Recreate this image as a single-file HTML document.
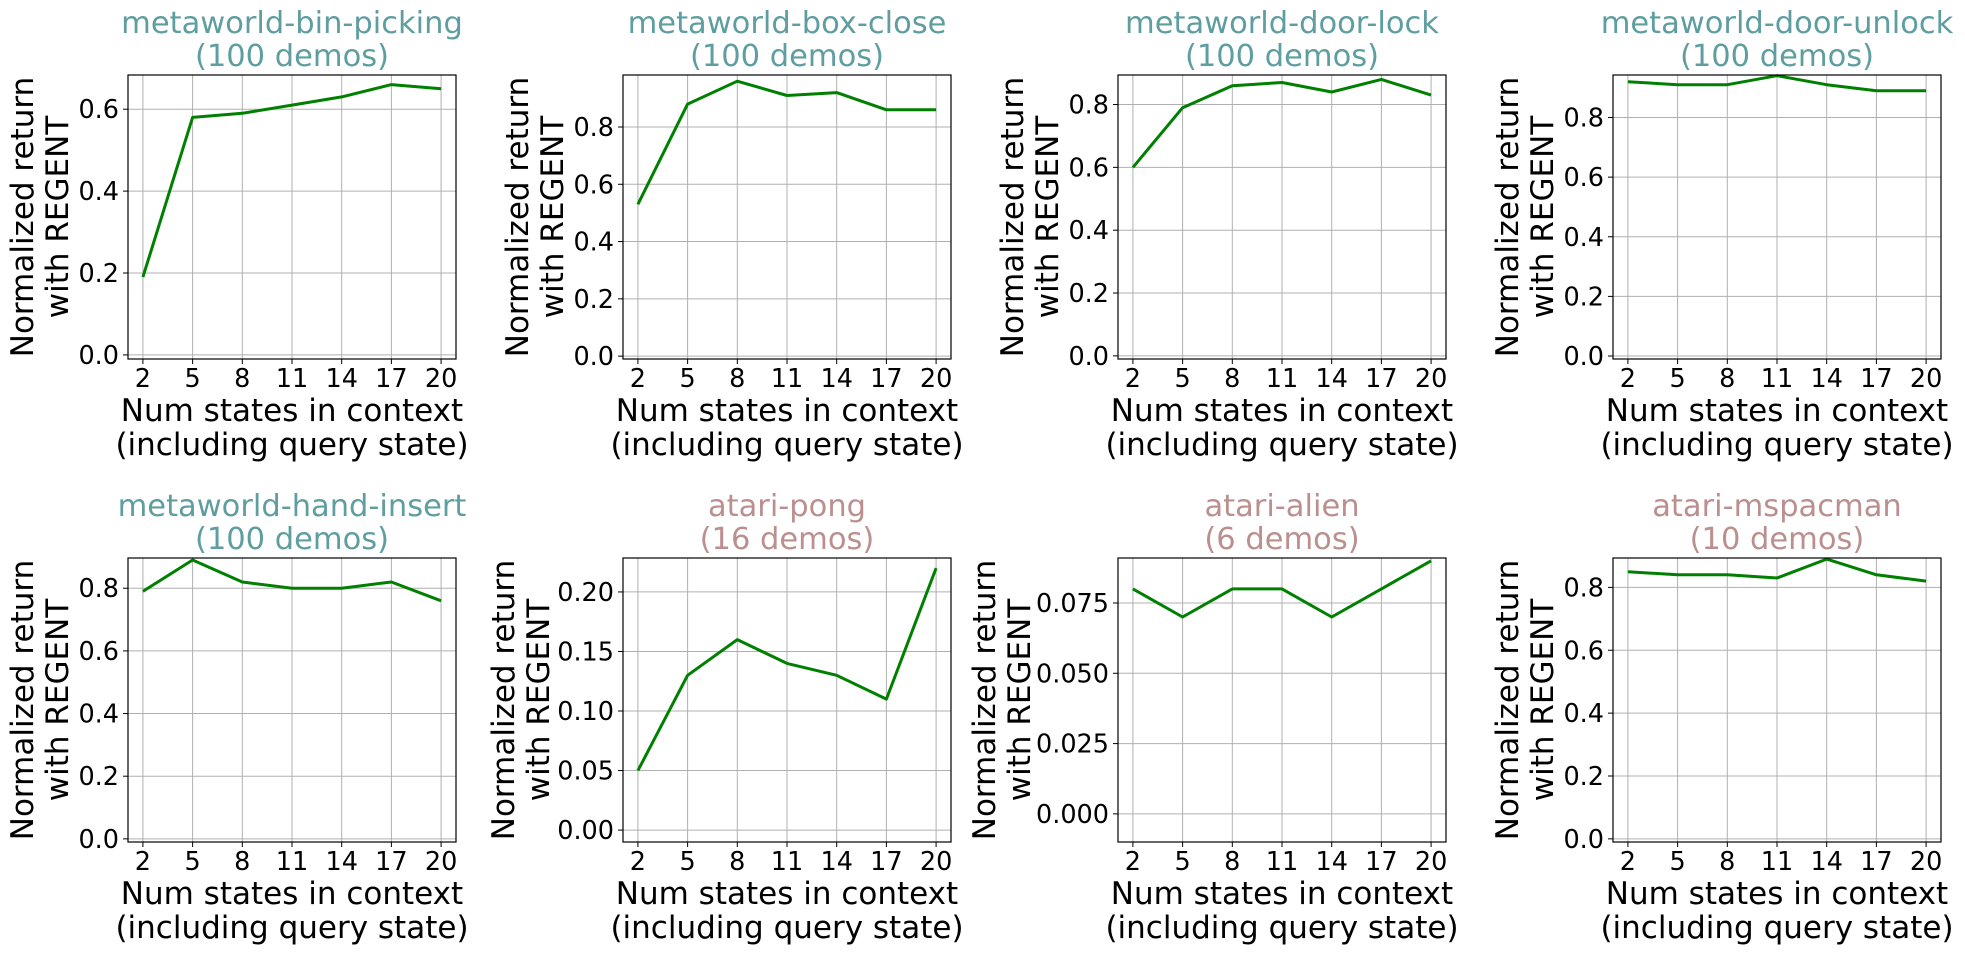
<!DOCTYPE html>
<html><head><meta charset="utf-8"><style>
body{margin:0;background:#fff;}
svg text{font-family:"DejaVu Sans","Liberation Sans",sans-serif;}
</style></head><body>
<svg id="fig" width="1965" height="954" xmlns="http://www.w3.org/2000/svg"></svg>
<script>
const xValues = [2,5,8,11,14,17,20];
const titles = ["metaworld-bin-picking","metaworld-box-close","metaworld-door-lock","metaworld-door-unlock","metaworld-hand-insert","atari-pong","atari-alien","atari-mspacman"];
const demos = ["(100 demos)","(100 demos)","(100 demos)","(100 demos)","(100 demos)","(16 demos)","(6 demos)","(10 demos)"];
const binPicking = [0.19,0.58,0.59,0.61,0.63,0.66,0.65];
const boxClose = [0.53,0.88,0.96,0.91,0.92,0.86,0.86];
const doorLock = [0.60,0.79,0.86,0.87,0.84,0.88,0.83];
const doorUnlock = [0.92,0.91,0.91,0.94,0.91,0.89,0.89];
const handInsert = [0.79,0.89,0.82,0.80,0.80,0.82,0.76];
const pong = [0.05,0.13,0.16,0.14,0.13,0.11,0.22];
const alien = [0.08,0.07,0.08,0.08,0.07,0.08,0.09];
const mspacman = [0.85,0.84,0.84,0.83,0.89,0.84,0.82];
const yTicks08 = [0,0.2,0.4,0.6,0.8];
const yTicks06 = [0,0.2,0.4,0.6];
const yTicksPong = [0,0.05,0.10,0.15,0.20];
const yTicksAlien = [0,0.025,0.05,0.075];
const yTickLabels08 = ["0.0","0.2","0.4","0.6","0.8"];
const yTickLabels06 = ["0.0","0.2","0.4","0.6"];
const yTickLabelsPong = ["0.00","0.05","0.10","0.15","0.20"];
const yTickLabelsAlien = ["0.000","0.025","0.050","0.075"];

const series = [binPicking,boxClose,doorLock,doorUnlock,handInsert,pong,alien,mspacman];
const ticksets = [yTicks06,yTicks08,yTicks08,yTicks08,yTicks08,yTicksPong,yTicksAlien,yTicks08];
const ticklabels = [yTickLabels06,yTickLabels08,yTickLabels08,yTickLabels08,yTickLabels08,yTickLabelsPong,yTickLabelsAlien,yTickLabels08];
const slugs = ["bin-picking","box-close","door-lock","door-unlock","hand-insert","pong","alien","mspacman"];

const svg = document.getElementById('fig');
const NS = "http://www.w3.org/2000/svg";
function mk(tag, attrs, parent){const e=document.createElementNS(NS,tag);for(const k in attrs)e.setAttribute(k,attrs[k]);(parent||svg).appendChild(e);return e;}

for(let p=0;p<8;p++){
  const col=p%4,row=Math.floor(p/4);
  const L=128+495*col, R=L+328, T=75+483*row, B=T+284;
  const data=series[p];
  const mx=Math.max(...data), mn=Math.min(...data);
  const yMin=-0.01, yMax=mx+0.05*(mx-mn);
  const xMin=2-0.9, xMax=20+0.9;
  const sx=v=>L+(v-xMin)/(xMax-xMin)*(R-L);
  const sy=v=>B-(v-yMin)/(yMax-yMin)*(B-T);
  const g=mk('g',{});
  
  
  const isAtari=titles[p].startsWith('atari');
  const tcol=isAtari?'#bc8f8f':'#5f9ea0';
  const cx=(L+R)/2;
  const t=mk('text',{x:cx,y:T-42,'text-anchor':'middle','font-size':30.5,fill:tcol},g);
  
  
  t.textContent=titles[p];
  const t2=mk('text',{x:cx,y:T-9,'text-anchor':'middle','font-size':30.5,fill:tcol},g);
  
  
  t2.textContent=demos[p];
  xValues.forEach(v=>{
    const x=sx(v);
    const gl=mk('line',{x1:x,x2:x,y1:T,y2:B,stroke:'#b0b0b0','stroke-width':1},g);
    
    
    mk('line',{x1:x,x2:x,y1:B,y2:B+5,stroke:'#000','stroke-width':1},g);
    const tl=mk('text',{x:x,y:B+28,'text-anchor':'middle','font-size':25.5,fill:'#000'},g);
    
    
    tl.textContent=String(v);
  });
  ticksets[p].forEach((v,i)=>{
    const y=sy(v);
    const gl=mk('line',{x1:L,x2:R,y1:y,y2:y,stroke:'#b0b0b0','stroke-width':1},g);
    
    
    mk('line',{x1:L-5,x2:L,y1:y,y2:y,stroke:'#000','stroke-width':1},g);
    const tl=mk('text',{x:L-9,y:y+9,'text-anchor':'end','font-size':25.5,fill:'#000'},g);
    
    
    tl.textContent=ticklabels[p][i];
  });
  const pts=data.map((v,i)=>sx(xValues[i]).toFixed(1)+','+sy(v).toFixed(1)).join(' ');
  const pl=mk('polyline',{points:pts,fill:'none',stroke:'#008000','stroke-width':3,'stroke-linejoin':'round'},g);
  
  
  const fr=mk('rect',{x:L,y:T,width:R-L,height:B-T,fill:'none',stroke:'#000','stroke-width':1.2},g);
  
  
  const xl1=mk('text',{x:cx,y:B+62,'text-anchor':'middle','font-size':31,fill:'#000'},g);
  
  
  xl1.textContent='Num states in context';
  const xl2=mk('text',{x:cx,y:B+96,'text-anchor':'middle','font-size':31,fill:'#000'},g);
  
  
  xl2.textContent='(including query state)';
  const ym=(T+B)/2;
  const extra = p===5?-14:(p===6?-28:0);
  const yl=mk('text',{x:0,y:0,'text-anchor':'middle','font-size':31,fill:'#000',transform:`translate(${L-95+extra},${ym}) rotate(-90)`},g);
  
  
  yl.textContent='Normalized return';
  const yl2=mk('text',{x:0,y:0,'text-anchor':'middle','font-size':31,fill:'#000',transform:`translate(${L-60+extra},${ym}) rotate(-90)`},g);
  
  
  yl2.textContent='with REGENT';
}
</script>
</body></html>
